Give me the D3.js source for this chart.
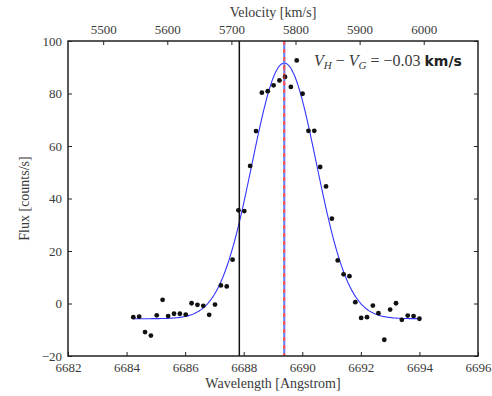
<!DOCTYPE html>
<html>
<head>
<meta charset="utf-8">
<script src="https://cdn.jsdelivr.net/npm/d3@7"></script>
<style>
  html, body { margin: 0; padding: 0; background: #fff; }
  svg { display: block; }
  text { font-family: "Liberation Serif", "DejaVu Serif", serif; fill: #3a3a3a; }
</style>
</head>
<body>
<svg id="chart" width="492" height="396"></svg>
<script>
// ---- data ----
const wavelength = [6684.23, 6684.43, 6684.63, 6684.83, 6685.03, 6685.23, 6685.42, 6685.62, 6685.82, 6686.02,
                    6686.22, 6686.42, 6686.62, 6686.82, 6687.02, 6687.22, 6687.42, 6687.62, 6687.82, 6688.02,
                    6688.22, 6688.42, 6688.62, 6688.82, 6689.02, 6689.22, 6689.41, 6689.61, 6689.81, 6690.01,
                    6690.21, 6690.41, 6690.61, 6690.81, 6691.01, 6691.21, 6691.41, 6691.61, 6691.81, 6692.01,
                    6692.21, 6692.41, 6692.60, 6692.80, 6693.00, 6693.20, 6693.40, 6693.60, 6693.80, 6694.00];
const flux = [-5.2, -5.0, -10.9, -12.2, -4.5, 1.4, -4.8, -3.9, -3.9, -4.2,
              0.1, -0.5, -0.9, -4.3, -0.4, 6.9, 6.5, 16.7, 35.5, 35.2,
              52.4, 65.7, 80.3, 80.9, 83.1, 85.0, 86.3, 82.5, 92.6, 79.9,
              65.8, 65.8, 52.0, 44.6, 32.3, 16.4, 11.1, 10.4, 0.5, -5.5,
              -5.2, -0.8, -3.7, -13.8, -2.3, 0.1, -6.2, -4.6, -4.8, -5.8];
// Gaussian fit parameters: [amplitude, centre (Å), sigma (Å), offset]
const fitParams = [97.4, 6689.385, 1.1, -5.8];
const markerLines = [6687.85, 6689.385];   // black solid line, red/blue dashed line
const xTicks = [6682, 6684, 6686, 6688, 6690, 6692, 6694, 6696];
const yTicks = [-20, 0, 20, 40, 60, 80, 100];
const velTicks = [5500, 5600, 5700, 5800, 5900, 6000];
const xDomain = [6682, 6696];
const yDomain = [-20, 100];
const restWavelength = 6562.8;  // Å
const lightSpeed = 299792.458;  // km/s
const annotation = { value: "−0.03", unit: "km/s" };

// ---- layout ----
const SERIF = "'Liberation Serif', 'DejaVu Serif', serif";
const W = 492, H = 396;
const m = { left: 68, right: 14, top: 41, bottom: 40 };
const pw = W - m.left - m.right, ph = H - m.top - m.bottom;
const svg = d3.select("#chart");
const g = svg.append("g").attr("transform", `translate(${m.left},${m.top})`);

const x = d3.scaleLinear().domain(xDomain).range([0, pw]);
const y = d3.scaleLinear().domain(yDomain).range([ph, 0]);
const toVel = l => lightSpeed * (l - restWavelength) / restWavelength;
const xv = d3.scaleLinear().domain(xDomain.map(toVel)).range([0, pw]);

const fmt = d => d < 0 ? "−" + Math.abs(d) : String(d);
const tickLen = 4;

// axes (ticks inside)
const styleAxis = (sel) => {
  sel.attr("font-family", SERIF);
  sel.select(".domain").remove();
  sel.selectAll(".tick line").attr("stroke", "#222").attr("stroke-width", 1);
  sel.selectAll(".tick text").style("font-size", "13px").style("font-family", SERIF).attr("fill", "#3a3a3a");
};
g.append("g").attr("transform", `translate(0,${ph})`)
  .call(d3.axisBottom(x).tickValues(xTicks).tickFormat(d => String(d)).tickSizeInner(-tickLen).tickPadding(7))
  .call(styleAxis);
g.append("g")
  .call(d3.axisLeft(y).tickValues(yTicks).tickFormat(fmt).tickSizeInner(-tickLen).tickPadding(6))
  .call(styleAxis);
g.append("g").attr("transform", `translate(${pw},0)`)
  .call(d3.axisRight(y).tickValues(yTicks).tickFormat("").tickSizeInner(-tickLen))
  .call(styleAxis);
g.append("g")
  .call(d3.axisTop(xv).tickValues(velTicks).tickFormat(d => String(d)).tickSizeInner(-tickLen).tickPadding(7))
  .call(styleAxis);

// fitted gaussian
const [A, mu, sig, off] = fitParams;
const lo = d3.min(wavelength), hi = d3.max(wavelength);
const curveX = d3.range(0, 301).map(i => lo + (hi - lo) * i / 300);
const line = d3.line().x(d => x(d)).y(d => y(A * Math.exp(-((d - mu) ** 2) / (2 * sig * sig)) + off));
g.append("path").datum(curveX).attr("d", line)
  .attr("fill", "none").attr("stroke", "#3333ff").attr("stroke-width", 1.1);

// vertical lines
g.append("line").attr("x1", x(markerLines[0])).attr("x2", x(markerLines[0]))
  .attr("y1", 0).attr("y2", ph).attr("stroke", "#111").attr("stroke-width", 1.5);
g.append("line").attr("x1", x(markerLines[1])).attr("x2", x(markerLines[1]))
  .attr("y1", 0).attr("y2", ph).attr("stroke", "#5b7dff").attr("stroke-width", 2);
g.append("line").attr("x1", x(markerLines[1])).attr("x2", x(markerLines[1]))
  .attr("y1", 0).attr("y2", ph).attr("stroke", "#ff5050").attr("stroke-width", 2)
  .attr("stroke-dasharray", "4,4");

// data points
g.selectAll("circle.pt").data(wavelength).enter().append("circle")
  .attr("class", "pt")
  .attr("cx", d => x(d)).attr("cy", (d, i) => y(flux[i])).attr("r", 2.4)
  .attr("fill", "#111");

// red dashes partly over the point at the line centre
g.append("line").attr("x1", x(markerLines[1])).attr("x2", x(markerLines[1]))
  .attr("y1", y(90)).attr("y2", y(83)).attr("stroke", "#ff5050").attr("stroke-width", 2)
  .attr("stroke-dasharray", "4,4").attr("opacity", 0.6);

// frame
g.append("rect").attr("width", pw).attr("height", ph)
  .attr("fill", "none").attr("stroke", "#222").attr("stroke-width", 1.5);

// labels
svg.append("text").attr("x", m.left + pw / 2).attr("y", 388).attr("text-anchor", "middle")
  .style("font-size", "14px").style("font-family", SERIF).text("Wavelength [Angstrom]");
svg.append("text").attr("x", m.left + pw / 2).attr("y", 17).attr("text-anchor", "middle")
  .style("font-size", "14px").style("font-family", SERIF).text("Velocity [km/s]");
svg.append("text").attr("transform", `translate(29,${m.top + ph / 2}) rotate(-90)`)
  .attr("text-anchor", "middle").style("font-size", "14px").style("font-family", SERIF).text("Flux [counts/s]");

// annotation
const ann = svg.append("text").attr("x", 314).attr("y", 66).style("font-size", "16px").style("font-family", SERIF);
ann.append("tspan").attr("font-style", "italic").text("V");
ann.append("tspan").attr("font-style", "italic").attr("dy", 3).style("font-size", "11px").text("H");
ann.append("tspan").attr("dy", -3).text(" − ");
ann.append("tspan").attr("font-style", "italic").text("V");
ann.append("tspan").attr("font-style", "italic").attr("dy", 3).style("font-size", "11px").text("G");
ann.append("tspan").attr("dy", -3).text(" = " + annotation.value + " ");
ann.append("tspan").style("font-family", "'DejaVu Sans', sans-serif").style("font-weight", "bold")
  .style("font-size", "14px").attr("fill", "#222").text(annotation.unit);
</script>
</body>
</html>
